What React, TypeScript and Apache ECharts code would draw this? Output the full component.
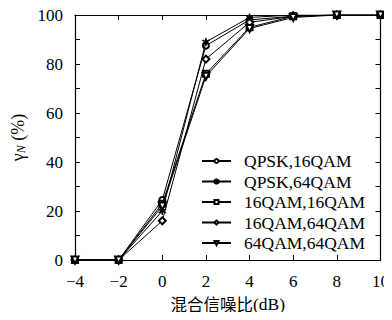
import React, { useEffect, useRef } from "react";
import * as echarts from "echarts";

const snr = [-4, -2, 0, 2, 4, 6, 8, 10];
const seriesNames = ["QPSK,16QAM", "QPSK,64QAM", "16QAM,16QAM", "16QAM,64QAM", "64QAM,64QAM"];
const qpsk16 = [0, 0, 24.5, 87.5, 98, 99.5, 100, 100];
const qpsk64 = [0, 0, 20, 89, 99, 100, 100, 100];
const qam16_16 = [0, 0, 23, 76, 95, 99.5, 100, 100];
const qam16_64 = [0, 0, 16, 82, 97, 99.5, 100, 100];
const qam64_64 = [0, 0, 22, 75, 94.5, 99, 100, 100];

const star =
  "path://M-0.5,-5L0.5,-5L0.5,5L-0.5,5Z M4.08,2.93L4.58,2.07L-4.08,-2.93L-4.58,-2.07Z M-4.58,2.07L-4.08,2.93L4.58,-2.07L4.08,-2.93Z";

const serif = "Liberation Serif";
const cjk = "Noto Sans CJK SC";

export default function App() {
  const ref = useRef<HTMLDivElement>(null);
  useEffect(() => {
    if (!ref.current) return;
    const chart = echarts.init(ref.current, undefined, { renderer: "svg" });
    const values = [qpsk16, qpsk64, qam16_16, qam16_64, qam64_64];
    const symbols: any[] = [
      { symbol: "emptyCircle", size: 6, rotate: 0 },
      { symbol: star, size: 7, rotate: 0 },
      { symbol: "emptyRect", size: 6, rotate: 0 },
      { symbol: "emptyDiamond", size: 7, rotate: 0 },
      { symbol: "emptyTriangle", size: 7, rotate: 180 },
    ];
    const tickStyle = { show: true, inside: true, length: 5, lineStyle: { color: "#000", width: 1 } };
    const lineStyle = { show: true, onZero: false, lineStyle: { color: "#000", width: 1.2 } };
    chart.setOption({
      animation: false,
      backgroundColor: "#fff",
      grid: { left: 75, right: 6, top: 15, bottom: 60, containLabel: false },
      legend: {
        orient: "vertical",
        left: 196,
        top: 147,
        itemWidth: 29,
        itemHeight: 5,
        itemGap: 2.5,
        textStyle: { fontFamily: serif, fontSize: 17.5, color: "#000", padding: [0, 0, 0, 8] },
        data: seriesNames,
      },
      xAxis: [
        {
          type: "value",
          min: -4,
          max: 10,
          interval: 2,
          axisLine: lineStyle,
          axisTick: tickStyle,
          splitLine: { show: false },
          axisLabel: {
            fontFamily: serif,
            fontSize: 17,
            color: "#000",
            margin: 13,
            formatter: (v: number) => String(v).replace("-", "\u2212"),
          },
          name: "{c|混合信噪比}{s|(dB)}",
          nameLocation: "middle",
          nameGap: 35,
          nameTextStyle: {
            rich: {
              c: { fontFamily: cjk, fontSize: 16.5, color: "#000" },
              s: { fontFamily: serif, fontSize: 17.5, color: "#000" },
            },
          },
        },
        {
          type: "value",
          position: "top",
          min: -4,
          max: 10,
          interval: 2,
          axisLine: lineStyle,
          axisTick: tickStyle,
          axisLabel: { show: false },
          splitLine: { show: false },
        },
      ],
      yAxis: [
        {
          type: "value",
          min: 0,
          max: 100,
          interval: 10,
          axisLine: lineStyle,
          axisTick: tickStyle,
          splitLine: { show: false },
          axisLabel: {
            fontFamily: serif,
            fontSize: 17,
            color: "#000",
            margin: 12,
            formatter: (v: number) => (v % 20 === 0 ? String(v) : ""),
          },
          name: "{g|γ}{s|N}{n| (%)}",
          nameLocation: "middle",
          nameRotate: 90,
          nameGap: 48,
          nameTextStyle: {
            rich: {
              g: { fontFamily: serif, fontSize: 18, color: "#000" },
              s: { fontFamily: serif, fontStyle: "italic", fontSize: 12, color: "#000", verticalAlign: "bottom", padding: [6, 0, 0, 0] },
              n: { fontFamily: serif, fontSize: 18, color: "#000" },
            },
          },
        },
        {
          type: "value",
          position: "right",
          min: 0,
          max: 100,
          interval: 10,
          axisLine: lineStyle,
          axisTick: tickStyle,
          axisLabel: { show: false },
          splitLine: { show: false },
        },
      ],
      series: seriesNames.map((name, i) => ({
        name,
        type: "line",
        data: snr.map((x, j) => [x, values[i][j]]),
        symbol: symbols[i].symbol,
        symbolSize: symbols[i].size,
        symbolRotate: symbols[i].rotate,
        showAllSymbol: true,
        lineStyle: { color: "#000", width: 1 },
        itemStyle: { color: "#000", borderColor: "#000", borderWidth: 1 },
        z: 3 + i,
      })),
    });
    return () => chart.dispose();
  }, []);
  return <div ref={ref} style={{ width: 392, height: 320, margin: -8 }} />;
}
